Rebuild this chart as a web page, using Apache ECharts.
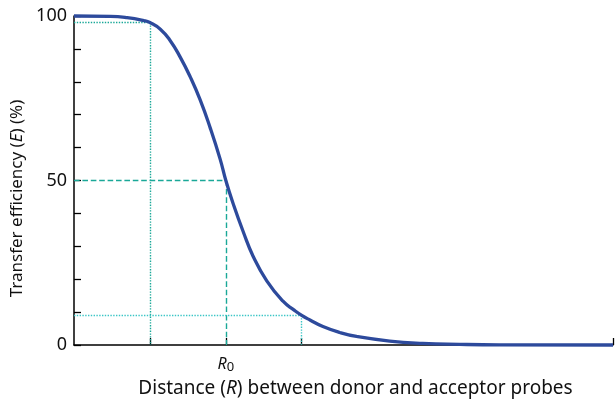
<!DOCTYPE html>
<html>
<head>
<meta charset="utf-8">
<script src="https://cdn.jsdelivr.net/npm/echarts@6/dist/echarts.min.js"></script>
<style>
html,body{margin:0;padding:0;background:#fff;}
#chart{width:615px;height:399px;}
</style>
</head>
<body>
<div id="chart"></div>
<script>
// Distance R (arbitrary units, R0 = 2) and transfer efficiency E (%)
var distance = [0, 0.48, 0.70, 0.92, 1.0, 1.137, 1.268, 1.399, 1.531, 1.662, 1.794, 1.925, 2.0, 2.096, 2.228, 2.359, 2.539, 2.753, 2.9, 3.0, 3.108, 3.279, 3.5, 3.721, 4.159, 4.593, 5.079, 5.6, 7.1];
var efficiency = [100, 99.9, 99.5, 98.6, 98.0, 96.0, 92.5, 87.5, 81.5, 74.5, 66.0, 56.5, 50, 43.0, 34.5, 27.0, 19.5, 13.3, 10.6, 9.0, 7.6, 5.6, 3.8, 2.6, 1.2, 0.5, 0.2, 0.05, 0];

// reference markers
var markerR = [1, 2, 3];
var markerE = [98, 50, 9];
var markerStyles = ['dotted', 'dashed', 'dotted'];
var markerColors = ['#1aa898', '#1aa898', '#3cc6c6'];

var xMax = 7.1;
var xTickValues = [1, 2, 3, 7.1];
var xLabelValues = [2];
var yTickValues = [0, 10, 20, 30, 40, 50, 60, 70, 80, 90, 100];
var yLabelValues = [0, 50, 100];

var curve = distance.map(function (d, i) { return [d, efficiency[i]]; });

var markData = [];
markerR.forEach(function (r, i) {
  var st = { type: markerStyles[i], color: markerColors[i], width: 1.4, opacity: 1 };
  markData.push([{ coord: [0, markerE[i]], lineStyle: st }, { coord: [r, markerE[i]], lineStyle: st }]);
  markData.push([{ coord: [r, markerE[i]], lineStyle: st }, { coord: [r, 0], lineStyle: st }]);
});

var FONT = 'Noto Sans';
var chart = echarts.init(document.getElementById('chart'), null, { renderer: 'canvas' });
chart.setOption({
  animation: false,
  backgroundColor: '#ffffff',
  grid: { left: 74, right: 2, top: 16, bottom: 54, containLabel: false, outerBoundsMode: 'none' },
  xAxis: {
    type: 'value', min: 0, max: xMax,
    axisLine: { show: true, onZero: false, lineStyle: { color: '#000', width: 1.5 } },
    axisTick: { show: true, inside: true, length: 7, customValues: xTickValues, lineStyle: { color: '#000', width: 1.3 } },
    axisLabel: {
      show: true, customValues: xLabelValues, margin: 10,
      formatter: function () { return '{i|R}{s|0}'; },
      rich: {
        i: { fontFamily: FONT, fontStyle: 'italic', fontSize: 16, color: '#111' },
        s: { fontFamily: FONT, fontSize: 13, color: '#111', verticalAlign: 'bottom', padding: [6, 0, 0, 0] }
      }
    },
    splitLine: { show: false },
    name: '{n|Distance (}{i|R}{n|) between donor and acceptor probes}',
    nameLocation: 'middle', nameGap: 33,
    nameTextStyle: {
      padding: [0, 0, 0, 24],
      rich: {
        n: { fontFamily: FONT, fontSize: 19, color: '#111' },
        i: { fontFamily: FONT, fontSize: 19, fontStyle: 'italic', color: '#111' }
      }
    }
  },
  yAxis: {
    type: 'value', min: 0, max: 100, interval: 10,
    axisLine: { show: true, lineStyle: { color: '#000', width: 1.5 } },
    axisTick: { show: true, inside: true, length: 7, customValues: yTickValues, lineStyle: { color: '#000', width: 1.3 } },
    axisLabel: { show: true, customValues: yLabelValues, margin: 7, fontFamily: FONT, fontSize: 18, color: '#111' },
    splitLine: { show: false },
    name: '{n|Transfer efficiency (}{i|E}{n|) (%)}',
    nameLocation: 'middle', nameGap: 44, nameRotate: 90,
    nameTextStyle: {
      padding: [0, 36, 0, 0],
      rich: {
        n: { fontFamily: FONT, fontSize: 17, color: '#111' },
        i: { fontFamily: FONT, fontSize: 17, fontStyle: 'italic', color: '#111' }
      }
    }
  },
  series: [{
    type: 'line',
    data: curve,
    smooth: 0.5,
    showSymbol: false,
    clip: false,
    z: 5,
    lineStyle: { color: '#2d4a9c', width: 3.3 },
    markLine: {
      silent: true, symbol: ['none', 'none'], z: 2,
      label: { show: false },
      lineStyle: { color: '#1aa898', opacity: 1 },
      data: markData
    }
  }]
});
</script>
</body>
</html>
